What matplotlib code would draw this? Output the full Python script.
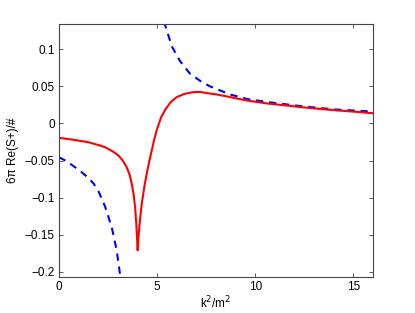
import matplotlib
matplotlib.use("Agg")
import matplotlib.pyplot as plt

plt.rcParams['font.family'] = ['Liberation Sans', 'DejaVu Sans']

red_x = [0, 0.75, 1.5, 2.0, 2.35, 2.7, 3.03, 3.25, 3.45, 3.6, 3.71, 3.8, 3.88, 3.94, 3.98,
         4.01, 4.06, 4.12, 4.22, 4.36, 4.5, 4.62, 4.73, 4.85, 4.98, 5.2, 5.41, 5.7, 6.0,
         6.4, 6.85, 7.2, 7.53, 8.05, 8.55, 9.0, 9.58, 10.6, 11.5, 12.6, 14, 15, 16]
red_y = [-0.0193, -0.022, -0.0253, -0.029, -0.032, -0.037, -0.043, -0.050, -0.059, -0.069,
         -0.0815, -0.095, -0.113, -0.135, -0.155, -0.171, -0.150, -0.132, -0.108, -0.0835,
         -0.064, -0.049, -0.036, -0.022, -0.009, 0.008, 0.0185, 0.029, 0.0356, 0.0400,
         0.0423, 0.0425, 0.041, 0.039, 0.0365, 0.034, 0.031, 0.027, 0.0245, 0.0213, 0.018,
         0.016, 0.0138]

blue1_x = [0, 0.4, 0.82, 1.15, 1.5, 1.75, 2.0, 2.35, 2.69, 2.94, 3.11, 3.2]
blue1_y = [-0.0455, -0.051, -0.059, -0.0655, -0.0735, -0.0805, -0.0905, -0.112, -0.140,
           -0.171, -0.203, -0.225]

blue2_x = [5.2, 5.41, 5.75, 6.17, 6.68, 7.28, 7.7, 8.21, 8.72, 9.23, 9.58, 10.6, 11.5,
           12.3, 14, 15, 16]
blue2_y = [0.155, 0.1324, 0.104, 0.084, 0.067, 0.0558, 0.050, 0.0446, 0.039, 0.0356,
           0.033, 0.029, 0.026, 0.0235, 0.019, 0.0175, 0.016]

xticks = [0, 5, 10, 15]
yticks = [-0.2, -0.15, -0.1, -0.05, 0, 0.05, 0.1]
ytick_labels = ['\u22120.2', '\u22120.15', '\u22120.1', '\u22120.05', '0', '0.05', '0.1']

fig = plt.figure(figsize=(4.15, 3.13), dpi=100)
ax = fig.add_axes([0.142, 0.115, 0.757, 0.808])

ax.plot(blue1_x, blue1_y, color='#0000ff', lw=1.5, ls=(0, (3.5, 2.8)))
ax.plot(blue2_x, blue2_y, color='#0000ff', lw=1.5, ls=(0, (3.5, 2.8)))
ax.plot(red_x, red_y, color='#ff0000', lw=1.5)

ax.set_xlim(0, 16)
ax.set_ylim(-0.207, 0.134)
ax.set_xticks(xticks)
ax.set_xticklabels([str(t) for t in xticks])
ax.set_yticks(yticks)
ax.set_yticklabels(ytick_labels)
ax.tick_params(direction='in', top=True, right=True, labelsize=8.5, length=3,
               width=0.6, color='#444444', pad=3)
for s in ax.spines.values():
    s.set_linewidth(0.8)
    s.set_color('#444444')

ax.set_xlabel('k$^2$/m$^2$', fontsize=8.5, labelpad=1)
ax.set_ylabel('6\u03c0 Re(S+)/#', fontsize=8.5, labelpad=4)

fig.savefig('out.png', dpi=100)
